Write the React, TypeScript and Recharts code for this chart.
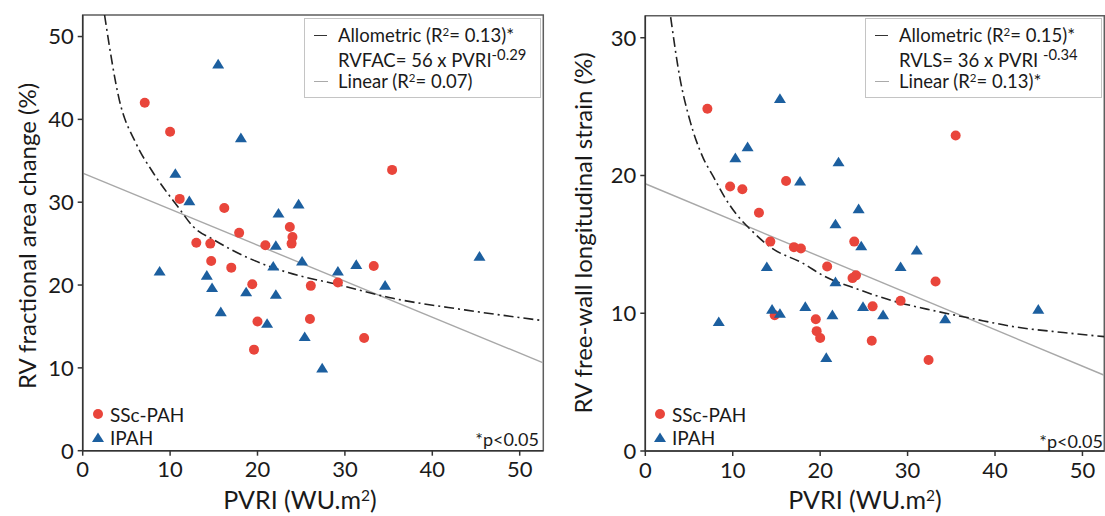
import React from "react";
import {
  ComposedChart,
  Scatter,
  Line,
  XAxis,
  YAxis,
  ReferenceArea,
} from "recharts";

const RED = "#e9453b";
const BLUE = "#1c5f9f";
const FONT = "Lato, 'Open Sans', sans-serif";

const xTicks = [0, 10, 20, 30, 40, 50];
const facTicks = [0, 10, 20, 30, 40, 50];
const lsTicks = [0, 10, 20, 30];

// RV fractional area change vs PVRI
const facSSc = [
  { x: 7.1, y: 42.0 }, { x: 10.0, y: 38.5 }, { x: 11.1, y: 30.4 }, { x: 16.2, y: 29.3 },
  { x: 17.9, y: 26.3 }, { x: 13.0, y: 25.1 }, { x: 14.6, y: 25.0 }, { x: 14.7, y: 22.9 },
  { x: 17.0, y: 22.1 }, { x: 20.9, y: 24.8 }, { x: 23.7, y: 27.0 }, { x: 24.0, y: 25.8 },
  { x: 23.9, y: 25.0 }, { x: 19.4, y: 20.1 }, { x: 20.0, y: 15.6 }, { x: 19.6, y: 12.2 },
  { x: 26.1, y: 19.9 }, { x: 26.0, y: 15.9 }, { x: 29.2, y: 20.3 }, { x: 32.2, y: 13.6 },
  { x: 33.3, y: 22.3 }, { x: 35.4, y: 33.9 },
];
const facIPAH = [
  { x: 15.5, y: 46.7 }, { x: 18.1, y: 37.8 }, { x: 10.6, y: 33.5 }, { x: 12.2, y: 30.2 },
  { x: 24.7, y: 29.8 }, { x: 22.4, y: 28.7 }, { x: 22.1, y: 24.8 }, { x: 25.1, y: 22.9 },
  { x: 21.8, y: 22.3 }, { x: 8.8, y: 21.7 }, { x: 14.2, y: 21.2 }, { x: 14.8, y: 19.7 },
  { x: 18.7, y: 19.2 }, { x: 22.1, y: 18.9 }, { x: 15.8, y: 16.8 }, { x: 21.1, y: 15.4 },
  { x: 25.4, y: 13.8 }, { x: 27.4, y: 10.0 }, { x: 29.2, y: 21.7 }, { x: 31.3, y: 22.5 },
  { x: 34.6, y: 20.0 }, { x: 45.4, y: 23.5 },
];
const facAllometric = [
  { x: 2.5, y: 52.6 }, { x: 4.2, y: 42.3 }, { x: 6.1, y: 37.1 }, { x: 8.1, y: 33.5 },
  { x: 11.0, y: 29.3 }, { x: 12.6, y: 27.1 }, { x: 15.1, y: 25.4 }, { x: 19.1, y: 23.2 },
  { x: 23.2, y: 21.6 }, { x: 29.4, y: 20.0 }, { x: 35.5, y: 18.4 }, { x: 43.7, y: 17.0 },
  { x: 52.7, y: 15.7 },
];
const facLinear = [{ x: 0, y: 33.5 }, { x: 52.7, y: 10.6 }];

// RV free-wall longitudinal strain vs PVRI
const lsSSc = [
  { x: 7.1, y: 24.85 }, { x: 9.7, y: 19.2 }, { x: 11.1, y: 19.0 }, { x: 16.1, y: 19.6 },
  { x: 13.0, y: 17.3 }, { x: 14.3, y: 15.2 }, { x: 17.0, y: 14.8 }, { x: 17.8, y: 14.7 },
  { x: 23.9, y: 15.2 }, { x: 20.8, y: 13.4 }, { x: 24.1, y: 12.75 }, { x: 23.7, y: 12.55 },
  { x: 29.2, y: 10.9 }, { x: 26.0, y: 10.5 }, { x: 14.8, y: 9.85 }, { x: 19.5, y: 9.56 },
  { x: 19.6, y: 8.7 }, { x: 20.0, y: 8.2 }, { x: 25.9, y: 8.0 }, { x: 32.4, y: 6.6 },
  { x: 33.2, y: 12.3 }, { x: 35.5, y: 22.9 },
];
const lsIPAH = [
  { x: 15.4, y: 25.6 }, { x: 11.7, y: 22.1 }, { x: 10.3, y: 21.3 }, { x: 22.1, y: 21.0 },
  { x: 17.7, y: 19.6 }, { x: 24.4, y: 17.6 }, { x: 21.75, y: 16.5 }, { x: 24.7, y: 14.9 },
  { x: 31.05, y: 14.6 }, { x: 13.9, y: 13.4 }, { x: 29.2, y: 13.4 }, { x: 21.75, y: 12.3 },
  { x: 14.5, y: 10.3 }, { x: 15.4, y: 10.0 }, { x: 18.3, y: 10.5 }, { x: 21.4, y: 9.9 },
  { x: 24.9, y: 10.5 }, { x: 27.2, y: 9.9 }, { x: 34.3, y: 9.6 }, { x: 8.4, y: 9.4 },
  { x: 20.7, y: 6.8 }, { x: 44.95, y: 10.3 },
];
const lsAllometric = [
  { x: 2.9, y: 31.5 }, { x: 3.95, y: 27.1 }, { x: 5.1, y: 24.0 }, { x: 6.6, y: 21.3 },
  { x: 7.8, y: 19.9 }, { x: 9.1, y: 18.4 }, { x: 10.4, y: 17.2 }, { x: 12.0, y: 16.1 },
  { x: 14.3, y: 14.8 }, { x: 18.1, y: 13.6 }, { x: 20.3, y: 12.75 }, { x: 24.5, y: 11.7 },
  { x: 28.3, y: 10.9 }, { x: 32.2, y: 10.3 }, { x: 37.5, y: 9.6 }, { x: 42.4, y: 9.0 },
  { x: 47.8, y: 8.6 }, { x: 52.5, y: 8.3 },
];
const lsLinear = [{ x: 0, y: 19.4 }, { x: 52.5, y: 5.5 }];

const Dot = (p: any) => <circle cx={p.cx} cy={p.cy} r={5} fill={RED} />;
const Tri = (p: any) => (
  <path
    d={`M${p.cx},${p.cy - 5} L${p.cx + 6},${p.cy + 4.6} L${p.cx - 6},${p.cy + 4.6} Z`}
    fill={BLUE}
  />
);

const Sup = ({ children, size = "0.62em" }: any) => (
  <span style={{ fontSize: size, position: "relative", top: "-0.5em" }}>{children}</span>
);

type PanelProps = {
  width: number;
  plotLeft: number;
  plotTop: number;
  plotRight: number;
  plotBottom: number;
  xMax: number;
  yMax: number;
  yTicks: number[];
  ssc: { x: number; y: number }[];
  ipah: { x: number; y: number }[];
  allometric: { x: number; y: number }[];
  linear: { x: number; y: number }[];
};

const Panel = (p: PanelProps) => (
  <ComposedChart
    width={p.width}
    height={516}
    margin={{ top: p.plotTop, right: p.width - p.plotRight, bottom: 0, left: 0 }}
  >
    <ReferenceArea x1={0} x2={p.xMax} y1={0} y2={p.yMax} fill="none" stroke="#5e5e5e" strokeWidth={1.5} />
    <XAxis
      dataKey="x"
      type="number"
      domain={[0, p.xMax]}
      ticks={xTicks}
      interval={0}
      allowDataOverflow
      height={516 - p.plotBottom}
      tickSize={5}
      tickMargin={6}
      axisLine={{ stroke: "#333", strokeWidth: 1.5 }}
      tickLine={{ stroke: "#333", strokeWidth: 1.5 }}
      tick={{ fontSize: 22, fill: "#1a1a1a", fontFamily: FONT }}
    />
    <YAxis
      dataKey="y"
      type="number"
      domain={[0, p.yMax]}
      ticks={p.yTicks}
      interval={0}
      allowDataOverflow
      width={p.plotLeft}
      tickSize={5}
      tickMargin={4}
      axisLine={{ stroke: "#333", strokeWidth: 1.5 }}
      tickLine={{ stroke: "#333", strokeWidth: 1.5 }}
      tick={{ fontSize: 22, fill: "#1a1a1a", fontFamily: FONT }}
    />
    <Line data={p.linear} dataKey="y" type="linear" stroke="#a8a8a8" strokeWidth={1.4} dot={false} isAnimationActive={false} />
    <Line
      data={p.allometric}
      dataKey="y"
      type="monotone"
      stroke="#222"
      strokeWidth={1.6}
      strokeDasharray="10 4 2 4"
      dot={false}
      isAnimationActive={false}
    />
    <Scatter data={p.ssc} dataKey="y" shape={Dot} isAnimationActive={false} />
    <Scatter data={p.ipah} dataKey="y" shape={Tri} isAnimationActive={false} />
  </ComposedChart>
);

const abs = (left: number, top: number, extra: React.CSSProperties = {}): React.CSSProperties => ({
  position: "absolute",
  left,
  top,
  whiteSpace: "nowrap",
  lineHeight: 1,
  color: "#1a1a1a",
  ...extra,
});

const FitLegend = ({ left, r2a, formula, r2l }: any) => (
  <div style={abs(left, 18, { width: 235, height: 78, border: "1px solid #c4c4c4", fontSize: 18.5 })}>
    <div style={{ position: "absolute", left: 9, top: 16, width: 13, borderTop: "1.6px solid #333" }} />
    <div style={abs(33, 7)}>Allometric (R<Sup>2</Sup>= {r2a}</div>
    <div style={abs(33, 32)}>{formula}</div>
    <div style={{ position: "absolute", left: 9, top: 62, width: 14, borderTop: "1.5px solid #aaa" }} />
    <div style={abs(33, 53)}>Linear (R<Sup>2</Sup>= {r2l}</div>
  </div>
);

const GroupLegend = ({ left }: any) => (
  <>
    <svg style={{ position: "absolute", left: left - 8, top: 404 }} width={16} height={44}>
      <circle cx={8} cy={10} r={5} fill={RED} />
      <path d="M8,28.5 L14,38 L2,38 Z" fill={BLUE} />
    </svg>
    <div style={abs(left + 12, 405, { fontSize: 19 })}>SSc-PAH</div>
    <div style={abs(left + 12, 428, { fontSize: 19 })}>IPAH</div>
  </>
);

const YTitle = ({ cx, cy, text }: any) => (
  <div style={abs(cx, cy, { fontSize: 24, transform: "translate(-50%, -50%) rotate(-90deg)" })}>{text}</div>
);

const XTitle = ({ cx }: any) => (
  <div style={abs(cx, 499, { fontSize: 25, transform: "translate(-50%, -50%)" })}>
    PVRI (WU.m<Sup>2</Sup>)
  </div>
);

export default function App() {
  return (
    <div
      style={{
        position: "absolute",
        left: 0,
        top: 0,
        width: 1105,
        height: 516,
        background: "#fff",
        fontFamily: FONT,
        overflow: "hidden",
      }}
    >
      <div style={{ position: "absolute", left: 0, top: 0 }}>
        <Panel
          width={560}
          plotLeft={82.7}
          plotTop={15}
          plotRight={543.3}
          plotBottom={450.7}
          xMax={52.7}
          yMax={52.6}
          yTicks={facTicks}
          ssc={facSSc}
          ipah={facIPAH}
          allometric={facAllometric}
          linear={facLinear}
        />
      </div>
      <div style={{ position: "absolute", left: 560, top: 0 }}>
        <Panel
          width={545}
          plotLeft={85.3}
          plotTop={15.7}
          plotRight={544.3}
          plotBottom={451}
          xMax={52.5}
          yMax={31.6}
          yTicks={lsTicks}
          ssc={lsSSc}
          ipah={lsIPAH}
          allometric={lsAllometric}
          linear={lsLinear}
        />
      </div>

      <FitLegend
        left={304}
        r2a="0.13)*"
        formula={<>RVFAC= 56 x PVRI<Sup size="0.8em">-0.29</Sup></>}
        r2l="0.07)"
      />
      <FitLegend
        left={865}
        r2a="0.15)*"
        formula={<>RVLS= 36 x PVRI <Sup size="0.8em">-0.34</Sup></>}
        r2l="0.13)*"
      />

      <GroupLegend left={98} />
      <GroupLegend left={660} />

      <div style={abs(0, 430, { width: 539, textAlign: "right", fontSize: 18 })}>*p&lt;0.05</div>
      <div style={abs(560, 432, { width: 543, textAlign: "right", fontSize: 18 })}>*p&lt;0.05</div>

      <YTitle cx={27} cy={236} text="RV fractional area change (%)" />
      <YTitle cx={583} cy={233} text="RV free-wall longitudinal strain (%)" />
      <XTitle cx={300} />
      <XTitle cx={865} />
    </div>
  );
}
